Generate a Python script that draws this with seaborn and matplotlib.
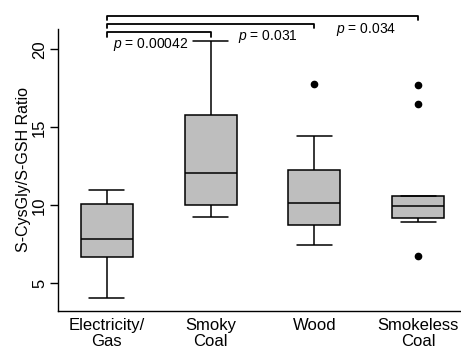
import numpy as np
import pandas as pd
import matplotlib
matplotlib.use("Agg")
import matplotlib.pyplot as plt
import seaborn as sns

# 燃料の種類ごとの比率
fuel_labels = ["Electricity/\nGas", "Smoky\nCoal", "Wood", "Smokeless\nCoal"]
electricity_gas = [4.04, 6.67, 7.82, 10.1, 10.96]
smoky_coal = [9.23, 10.0, 12.05, 15.8, 20.5]
wood = [7.44, 8.2, 8.72, 9.5, 10.13, 11.0, 12.24, 14.42, 17.76]
smokeless_coal = [6.73, 8.9, 9.17, 9.5, 9.97, 10.3, 10.58, 16.47, 17.7]

# 比較の括弧 (Electricity/Gas から各群へ)
compare_to = [1, 2, 3]
bracket_y = [21.09, 21.62, 22.15]
p_texts = ["0.00042", "0.031", "0.034"]
p_pos = [(0.06, 20.28, "left"), (1.55, 20.81, "center"), (2.50, 21.24, "center")]

rows = []
for lab, vals in zip(fuel_labels, [electricity_gas, smoky_coal, wood, smokeless_coal]):
    for v in vals:
        rows.append({"fuel": lab, "ratio": v})
df = pd.DataFrame(rows)

sns.set_theme(style="ticks")
plt.rcParams["font.family"] = ["Liberation Sans", "DejaVu Sans"]
plt.rcParams["mathtext.fontset"] = "custom"
plt.rcParams["mathtext.it"] = "Liberation Sans:italic"
plt.rcParams["mathtext.rm"] = "Liberation Sans"
for key in ["text.color", "axes.labelcolor", "xtick.color", "ytick.color", "axes.edgecolor"]:
    plt.rcParams[key] = "black"

fig = plt.figure(figsize=(4.61, 3.46), dpi=100)
ax = fig.add_axes([58.3 / 461, 1 - 310.7 / 346, 1 - 58.3 / 461, (310.7 - 29.3) / 346])

sns.boxplot(
    data=df, x="fuel", y="ratio", order=fuel_labels, ax=ax,
    color="#bebebe", saturation=1, width=0.5, linecolor="black", linewidth=1.1,
    flierprops=dict(marker="o", markerfacecolor="black", markeredgecolor="black",
                    markersize=4.5),
    capwidths=0.333,
)

ax.set_xlim(-0.465, 3.41)
ax.set_ylim(3.24, 21.28)
ax.set_yticks([5, 10, 15, 20])
ax.set_xlabel("")
ax.set_ylabel("S-CysGly/S-GSH Ratio", fontsize=11.5, labelpad=1)
ax.tick_params(axis="y", labelrotation=90, labelsize=12, length=6, width=1, pad=2)
ax.tick_params(axis="x", labelsize=12, length=0, pad=5)
for t in ax.get_yticklabels():
    t.set_va("center")
for t in ax.get_xticklabels():
    t.set_linespacing(1.1)
    t.set_va("top")

for sp in ["top", "right"]:
    ax.spines[sp].set_visible(False)
for sp in ["left", "bottom"]:
    ax.spines[sp].set_linewidth(1.0)

# 括弧と p 値
for j, y in zip(compare_to, bracket_y):
    ax.plot([0, 0, j, j], [y - 0.28, y, y, y - 0.28], color="black", lw=1.3, clip_on=False)
for txt, (x, y, ha) in zip(p_texts, p_pos):
    ax.text(x, y, r"$p$ = " + txt, fontsize=10, ha=ha, va="center")

fig.savefig("out.png", dpi=100)
